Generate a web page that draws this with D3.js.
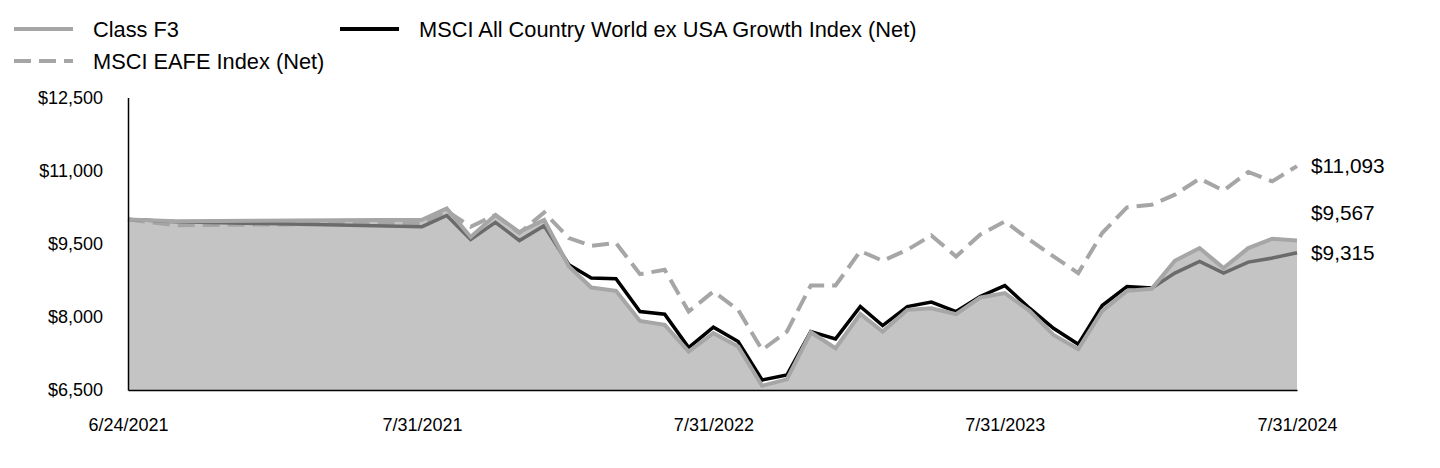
<!DOCTYPE html>
<html>
<head>
<meta charset="utf-8">
<script src="https://cdn.jsdelivr.net/npm/d3@7"></script>
<style>
  html, body { margin: 0; padding: 0; background: #fff; }
  svg { display: block; font-family: "Liberation Sans", Arial, sans-serif; }
</style>
</head>
<body>
<svg id="chart" width="1440" height="468"></svg>
<script>
// ---- data ----
const dates = ["2021-06-24","2021-06-30","2021-07-31","2021-08-31","2021-09-30","2021-10-31","2021-11-30","2021-12-31",
  "2022-01-31","2022-02-28","2022-03-31","2022-04-30","2022-05-31","2022-06-30","2022-07-31","2022-08-31","2022-09-30",
  "2022-10-31","2022-11-30","2022-12-31","2023-01-31","2023-02-28","2023-03-31","2023-04-30","2023-05-31","2023-06-30",
  "2023-07-31","2023-08-31","2023-09-30","2023-10-31","2023-11-30","2023-12-31","2024-01-31","2024-02-29","2024-03-31",
  "2024-04-30","2024-05-31","2024-06-30","2024-07-31"];
const classF3 = [10000,9960,9990,10225,9640,10090,9740,9990,9034,8602,8534,7918,7836,7287,7665,7390,6588,6719,7685,7356,
  8060,7698,8144,8178,8055,8397,8487,8123,7630,7342,8123,8534,8575,9151,9411,9000,9411,9603,9567];
const acwiExUsaGrowth = [10000,9950,9850,10080,9590,9940,9565,9870,9069,8795,8781,8109,8055,7370,7788,7493,6705,6808,7698,7548,
  8212,7822,8212,8302,8109,8418,8643,8178,7767,7439,8232,8623,8590,8898,9137,8898,9124,9206,9315];
const eafe = [10000,9880,9920,10170,9850,10090,9720,10140,9617,9459,9514,8877,8966,8109,8520,8144,7322,7698,8643,8643,
  9350,9151,9377,9671,9239,9685,9959,9582,9239,8898,9719,10246,10301,10507,10836,10589,10973,10780,11093];
const seriesNames = ["Class F3", "MSCI All Country World ex USA Growth Index (Net)", "MSCI EAFE Index (Net)"];
const xTickLabels = ["2021-06-24","2021-07-31","2022-07-31","2023-07-31","2024-07-31"];
const yTicks = [6500, 8000, 9500, 11000, 12500];

// ---- setup ----
const parse = d3.timeParse("%Y-%m-%d");
const X = dates.map(parse);
const svg = d3.select("#chart");

const x = d3.scaleTime()
  .domain([parse("2021-06-24"), parse("2021-07-31"), parse("2024-07-31")])
  .range([128, 422, 1297]);
const y = d3.scaleLinear().domain([6500, 12500]).range([390, 97.5]);

const GRAY = "#a6a6a6";

const line = d3.line().x((d, i) => x(X[i])).y(d => y(d));
const area = d3.area().x((d, i) => x(X[i])).y0(y(6500)).y1(d => y(d));

const plot = svg.append("g");

// EAFE dashed
plot.append("path").attr("d", line(eafe))
  .attr("fill", "none").attr("stroke", GRAY).attr("stroke-width", 4)
  .attr("stroke-dasharray", "17,8").attr("stroke-linejoin", "miter");

// ACWI ex USA Growth black
plot.append("path").attr("d", line(acwiExUsaGrowth))
  .attr("fill", "none").attr("stroke", "#000").attr("stroke-width", 3.5)
  .attr("stroke-linejoin", "miter");

// Class F3 area + line
plot.append("path").attr("d", area(classF3))
  .attr("fill", "#a4a4a4").attr("fill-opacity", 0.65);
plot.append("path").attr("d", line(classF3))
  .attr("fill", "none").attr("stroke", GRAY).attr("stroke-width", 4)
  .attr("stroke-linejoin", "miter");

// ---- axes ----
const xAxis = d3.axisBottom(x)
  .tickValues(xTickLabels.map(parse))
  .tickFormat(d3.timeFormat("%-m/%-d/%Y"))
  .tickSize(0).tickPadding(28);
const gx = svg.append("g").attr("transform", `translate(0,${y(6500)})`).call(xAxis);
gx.select(".domain").attr("stroke", "#000").attr("stroke-width", 1.5);
gx.selectAll("text").attr("font-size", 18).attr("fill", "#000")
  .attr("font-family", "Liberation Sans, Arial, sans-serif");

const yAxis = d3.axisLeft(y).tickValues(yTicks).tickFormat(d3.format("$,")).tickSize(0).tickPadding(25);
const gy = svg.append("g").attr("transform", `translate(${x(parse("2021-06-24"))},0)`).call(yAxis);
gy.select(".domain").attr("stroke", "#000").attr("stroke-width", 1.5);
gy.selectAll("text").attr("font-size", 18).attr("fill", "#000")
  .attr("font-family", "Liberation Sans, Arial, sans-serif");

// ---- end labels ----
const ends = [classF3, acwiExUsaGrowth, eafe].map(s => ({ v: s[s.length - 1], y: y(s[s.length - 1]) }));
ends.sort((a, b) => b.y - a.y);
for (let i = 1; i < ends.length; i++) {
  if (ends[i].y > ends[i - 1].y - 40) ends[i].y = ends[i - 1].y - 40;
}
svg.append("g").selectAll("text").data(ends).join("text")
  .attr("x", x(X[X.length - 1]) + 14)
  .attr("y", d => d.y)
  .attr("dy", "0.35em")
  .attr("font-size", 20.8)
  .attr("fill", "#000")
  .text(d => d3.format("$,")(d.v));

// ---- legend ----
const legendItems = [
  { name: seriesNames[0], color: GRAY, dash: null, w: 4, lx: 14, ly: 29 },
  { name: seriesNames[1], color: "#000", dash: null, w: 4, lx: 340, ly: 29 },
  { name: seriesNames[2], color: GRAY, dash: "17,8", w: 4, lx: 14, ly: 61 }
];
const lg = svg.append("g").selectAll("g").data(legendItems).join("g")
  .attr("transform", d => `translate(${d.lx},${d.ly})`);
lg.append("line").attr("x1", 0).attr("x2", 59).attr("y1", 0).attr("y2", 0)
  .attr("stroke", d => d.color).attr("stroke-width", d => d.w)
  .attr("stroke-dasharray", d => d.dash);
lg.append("text").attr("x", 79).attr("y", 0).attr("dy", "0.35em")
  .attr("font-size", 21.8).attr("fill", "#000").text(d => d.name);
</script>
</body>
</html>
